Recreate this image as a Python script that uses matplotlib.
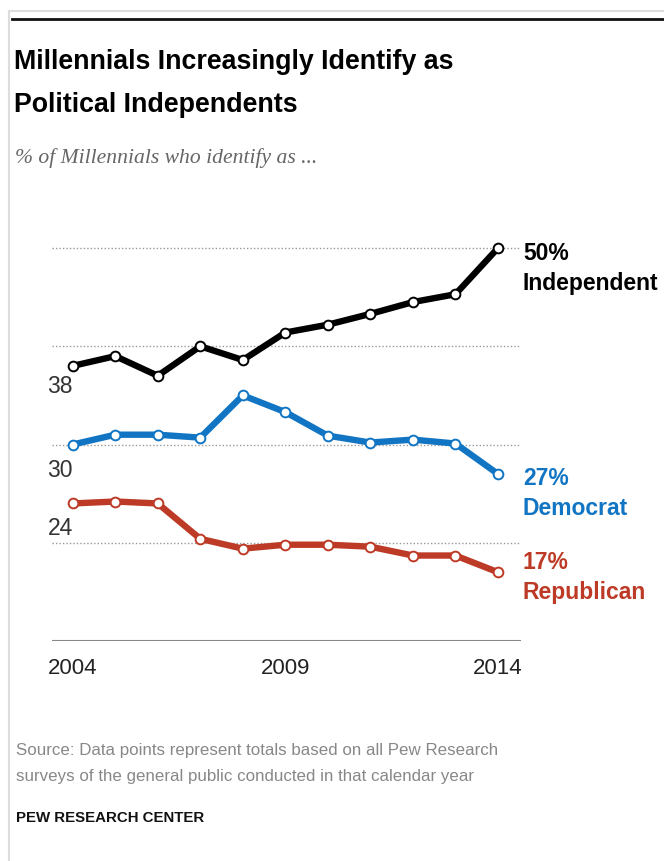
import matplotlib
matplotlib.use("Agg")
import matplotlib.pyplot as plt
from matplotlib.lines import Line2D

# share of Millennials by party identification, per year
years = [2004, 2005, 2006, 2007, 2008, 2009, 2010, 2011, 2012, 2013, 2014]
independent = [38, 39, 37, 40, 38.6, 41.4, 42.2, 43.3, 44.5, 45.3, 50]
democrat = [30, 31, 31, 30.7, 35, 33.3, 30.9, 30.2, 30.5, 30.1, 27]
republican = [24, 24.2, 24, 20.4, 19.4, 19.8, 19.8, 19.6, 18.7, 18.7, 17]

series_names = ["Independent", "Democrat", "Republican"]
series_colors = ["#000000", "#1175c4", "#bd3a26"]
xticks = [2004, 2009, 2014]
gridlines = [20, 30, 40, 50]

plt.rcParams['font.family'] = ['Liberation Sans', 'DejaVu Sans']

W, H = 664, 861
fig = plt.figure(figsize=(W / 100, H / 100), dpi=100)

def px(x, y):
    return x / W, 1 - y / H

# frame around the graphic
fig.add_artist(Line2D([9 / W, 9 / W], [0, 1 - 11 / H], color="#dddddd", lw=1.5))
fig.add_artist(Line2D([9 / W, 1], [1 - 11 / H, 1 - 11 / H], color="#dddddd", lw=1.5))
fig.add_artist(Line2D([12 / W, 1], [1 - 19 / H, 1 - 19 / H], color="#111111", lw=2))

fig.text(*px(14, 62), "Millennials Increasingly Identify as", fontsize=19.3,
         fontweight="bold", va="center", ha="left")
fig.text(*px(14, 105), "Political Independents", fontsize=19.3,
         fontweight="bold", va="center", ha="left")
fig.text(*px(15, 158), "% of Millennials who identify as ...", fontsize=15.6,
         style="italic", family="Liberation Serif", color="#666666",
         va="center", ha="left")

# plot area: 2004 at x=73px, 2014 at x=498px; 10 units per 98px
left, right = 52, 521
top, bottom = 230, 641
ax = fig.add_axes([left / W, 1 - bottom / H, (right - left) / W, (bottom - top) / H])
per_year = (498 - 72.7) / 10
ax.set_xlim(2004 - (72.7 - left) / per_year, 2014 + (right - 498) / per_year)
ax.set_ylim(10, 50 + (248 - top) / 9.8)

for g in gridlines:
    ax.axhline(g, color="#999999", lw=1, ls=(0, (1, 1.5)), zorder=1)
ax.axhline(10, color="#888888", lw=1.5, zorder=1)

for vals, name, col in zip([independent, democrat, republican], series_names, series_colors):
    ax.plot(years, vals, color=col, lw=4.6, zorder=3, solid_joinstyle="round",
            marker="o", markersize=7, markerfacecolor="white",
            markeredgecolor=col, markeredgewidth=1.4)

for s in ax.spines.values():
    s.set_visible(False)
ax.set_yticks([])
ax.set_xticks(xticks)
ax.set_xticklabels([str(t) for t in xticks], fontsize=16, color="#222222")
ax.tick_params(axis="x", length=0, pad=12)

# first-year values
starts = [(independent[0], -21), (democrat[0], -26), (republican[0], -25)]
for v, dy in starts:
    ax.annotate(f"{v:g}", xy=(years[0], v), xytext=(0, dy * 0.72),
                textcoords="offset points", ha="right", va="center",
                fontsize=16.5, color="#333333")

# end labels
ends = [(independent[-1], -5, -35), (democrat[-1], -5, -35), (republican[-1], 10, -20)]
for (v, dy1, dy2), name, col in zip(ends, series_names, series_colors):
    ax.annotate(f"{v:g}%", xy=(years[-1], v), xytext=(25 * 0.72, dy1 * 0.72),
                textcoords="offset points", ha="left", va="center",
                fontsize=16.5, fontweight="bold", color=col, annotation_clip=False)
    ax.annotate(name, xy=(years[-1], v), xytext=(25 * 0.72, dy2 * 0.72),
                textcoords="offset points", ha="left", va="center",
                fontsize=16.5, fontweight="bold", color=col, annotation_clip=False)

fig.text(*px(16, 750), "Source: Data points represent totals based on all Pew Research",
         fontsize=12.2, color="#888888", va="center", ha="left")
fig.text(*px(16, 776), "surveys of the general public conducted in that calendar year",
         fontsize=12.2, color="#888888", va="center", ha="left")
fig.text(*px(16, 818), "PEW RESEARCH CENTER", fontsize=10.8, fontweight="bold",
         color="#111111", va="center", ha="left")

fig.savefig("out.png", dpi=100)
